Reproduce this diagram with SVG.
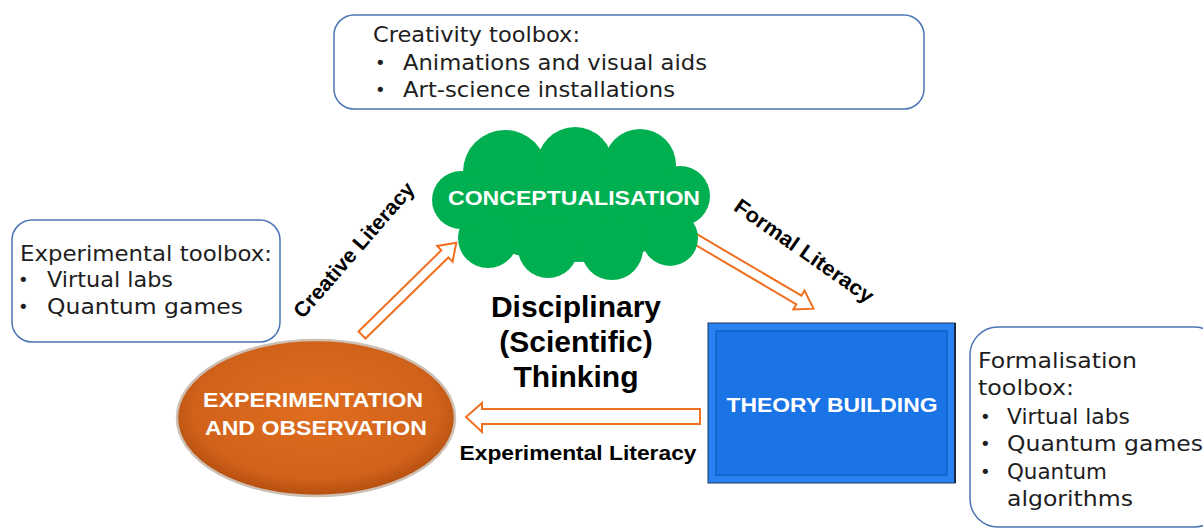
<svg xmlns="http://www.w3.org/2000/svg" width="1203" height="530" viewBox="0 0 1203 530">
  <style>
    .tb { fill: #ffffff; stroke: #4a74b4; stroke-width: 1.5; }
    .tt { font-family: "DejaVu Sans", "Open Sans", sans-serif; font-size: 21px; fill: #1e1e1e; }
    .bl { font-family: "DejaVu Sans", "Open Sans", sans-serif; font-size: 18px; fill: #1e1e1e; }
    .node-label { font-family: "Liberation Sans", Arial, sans-serif; font-weight: bold; font-size: 21px; fill: #ffffff; text-anchor: middle; }
    .lit { font-family: "Liberation Sans", Arial, sans-serif; font-weight: bold; font-size: 21px; fill: #000000; text-anchor: middle; }
    .center { font-family: "Liberation Sans", Arial, sans-serif; font-weight: bold; font-size: 30px; fill: #000000; text-anchor: middle; }
    .arrow { fill: #ffffff; stroke: #f07020; stroke-width: 2; stroke-linejoin: miter; }
  </style>
  <defs>
    <radialGradient id="ellG" cx="50%" cy="45%" r="55%">
      <stop offset="0%" stop-color="#df6d1f"/>
      <stop offset="80%" stop-color="#d1621a"/>
      <stop offset="100%" stop-color="#b44e10"/>
    </radialGradient>
  </defs>

  <!-- connectors -->
  <g id="connectors">
    <polygon class="arrow" transform="translate(362,335) rotate(-44.4)" points="0,-5 116,-5 116,-11 132,0 116,11 116,5 0,5"/>
    <polygon class="arrow" transform="translate(680,230) rotate(30.5)" points="0,-5 138,-5 138,-11 155,0 138,11 138,5 0,5"/>
    <polygon class="arrow" points="700,409 482,409 482,403 466,417 482,432 482,424 700,424"/>
    <text class="lit" transform="translate(354,250) rotate(-49)" y="7" textLength="172" lengthAdjust="spacingAndGlyphs">Creative Literacy</text>
    <text class="lit" transform="translate(804,251) rotate(35)" y="7" textLength="165" lengthAdjust="spacingAndGlyphs">Formal Literacy</text>
    <text class="lit" x="578" y="460" textLength="237" lengthAdjust="spacingAndGlyphs">Experimental Literacy</text>
  </g>

  <!-- Creativity toolbox -->
  <g id="creativity-toolbox">
    <rect class="tb" x="334" y="15" width="590" height="94" rx="20"/>
    <text class="tt" x="373" y="42" textLength="207" lengthAdjust="spacingAndGlyphs">Creativity toolbox:</text>
    <text class="bl" x="375" y="69">•</text>
    <text class="tt" x="403" y="70" textLength="304" lengthAdjust="spacingAndGlyphs">Animations and visual aids</text>
    <text class="bl" x="375" y="96">•</text>
    <text class="tt" x="403" y="97" textLength="272" lengthAdjust="spacingAndGlyphs">Art-science installations</text>
  </g>

  <!-- Experimental toolbox -->
  <g id="experimental-toolbox">
    <rect class="tb" x="12" y="220" width="268" height="122" rx="20"/>
    <text class="tt" x="20" y="261" textLength="252" lengthAdjust="spacingAndGlyphs">Experimental toolbox:</text>
    <text class="bl" x="18" y="286">•</text>
    <text class="tt" x="47" y="287" textLength="126" lengthAdjust="spacingAndGlyphs">Virtual labs</text>
    <text class="bl" x="18" y="313">•</text>
    <text class="tt" x="47" y="314" textLength="196" lengthAdjust="spacingAndGlyphs">Quantum games</text>
  </g>

  <!-- Formalisation toolbox -->
  <g id="formalisation-toolbox">
    <rect class="tb" x="970" y="327" width="252" height="200" rx="28"/>
    <text class="tt" x="978" y="368" textLength="159" lengthAdjust="spacingAndGlyphs">Formalisation</text>
    <text class="tt" x="978" y="395" textLength="96" lengthAdjust="spacingAndGlyphs">toolbox:</text>
    <text class="bl" x="980" y="423">•</text>
    <text class="tt" x="1007" y="424" textLength="123" lengthAdjust="spacingAndGlyphs">Virtual labs</text>
    <text class="bl" x="980" y="450">•</text>
    <text class="tt" x="1007" y="451" textLength="196" lengthAdjust="spacingAndGlyphs">Quantum games</text>
    <text class="bl" x="980" y="478">•</text>
    <text class="tt" x="1007" y="479" textLength="100" lengthAdjust="spacingAndGlyphs">Quantum</text>
    <text class="tt" x="1007" y="506" textLength="126" lengthAdjust="spacingAndGlyphs">algorithms</text>
  </g>

  <!-- Conceptualisation cloud -->
  <g id="conceptualisation" fill="#00b050">
    <ellipse cx="575" cy="207" rx="118" ry="55"/>
    <circle cx="505" cy="172" r="42"/>
    <circle cx="575" cy="165" r="38"/>
    <circle cx="640" cy="165" r="36"/>
    <circle cx="680" cy="196" r="30"/>
    <circle cx="670" cy="238" r="28"/>
    <circle cx="612" cy="249" r="31"/>
    <circle cx="548" cy="248" r="30"/>
    <circle cx="488" cy="238" r="30"/>
    <circle cx="461" cy="200" r="29"/>
    <text class="node-label" x="574" y="205" textLength="252" lengthAdjust="spacingAndGlyphs">CONCEPTUALISATION</text>
  </g>

  <!-- Experimentation and observation -->
  <g id="experimentation">
    <ellipse cx="316" cy="418" rx="139" ry="78" fill="url(#ellG)" stroke="#cdbfb2" stroke-width="2.5"/>
    <text class="node-label" x="313" y="407" textLength="220" lengthAdjust="spacingAndGlyphs">EXPERIMENTATION</text>
    <text class="node-label" x="316" y="435" textLength="222" lengthAdjust="spacingAndGlyphs">AND OBSERVATION</text>
  </g>

  <!-- Theory building -->
  <g id="theory-building">
    <rect x="708" y="323" width="247" height="160" fill="#2a82f0" stroke="#1a3a60" stroke-width="1"/>
    <rect x="716" y="331" width="231" height="144" fill="#1a74e6" stroke="#1060c4" stroke-width="1.5"/>
    <line x1="955" y1="323" x2="955" y2="483" stroke="#1a2a40" stroke-width="2"/>
    <text class="node-label" x="832" y="412" textLength="211" lengthAdjust="spacingAndGlyphs">THEORY BUILDING</text>
  </g>

  <!-- Centre text -->
  <g id="disciplinary-thinking">
    <text class="center" x="576" y="317">Disciplinary</text>
    <text class="center" x="576" y="352">(Scientific)</text>
    <text class="center" x="576" y="387">Thinking</text>
  </g>
</svg>
